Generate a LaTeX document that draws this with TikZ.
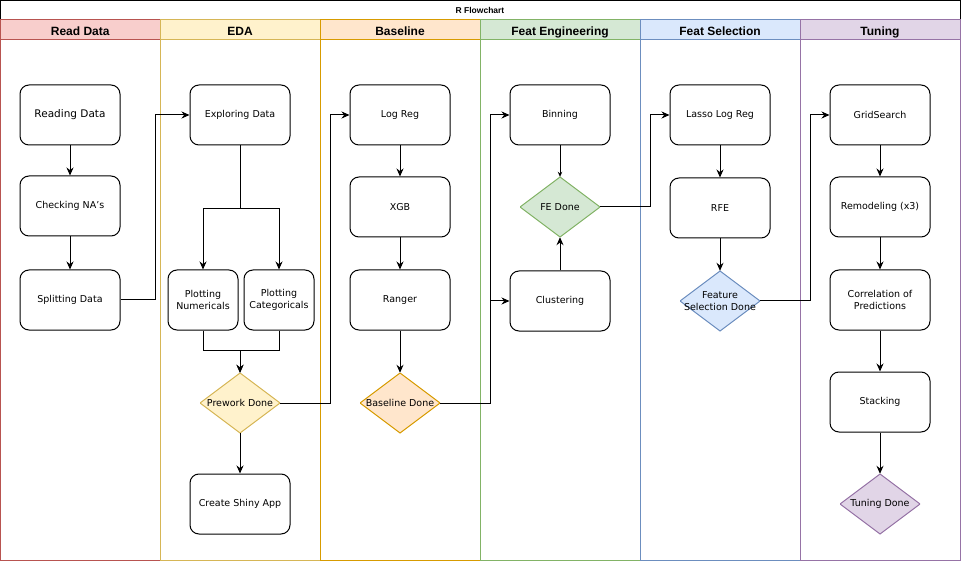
\documentclass[tikz,border=0pt]{standalone}
\usepackage{fontspec}
\setmainfont{DejaVu Sans}
\newfontfamily\headfont{Liberation Sans}
\usetikzlibrary{arrows.meta}
\definecolor{readfill}{HTML}{F8CECC}\definecolor{readstroke}{HTML}{B85450}
\definecolor{edafill}{HTML}{FFF2CC}\definecolor{edastroke}{HTML}{D6B656}
\definecolor{basefill}{HTML}{FFE6CC}\definecolor{basestroke}{HTML}{D79B00}
\definecolor{featfill}{HTML}{D5E8D4}\definecolor{featstroke}{HTML}{82B366}
\definecolor{selfill}{HTML}{DAE8FC}\definecolor{selstroke}{HTML}{6C8EBF}
\definecolor{tunefill}{HTML}{E1D5E7}\definecolor{tunestroke}{HTML}{9673A6}
\tikzset{
  box/.style={draw, line width=1pt, rounded corners=9pt, minimum width=100pt, minimum height=60pt,
    inner sep=2pt, align=center, font=\fontsize{9.5}{12}\selectfont},
  smallbox/.style={box, minimum width=70pt},
  decision/.style={minimum width=80pt, minimum height=60pt, inner sep=0pt, align=center,
    font=\fontsize{9.5}{12}\selectfont,
    path picture={\draw[line width=1pt, draw=#1stroke, fill=#1fill] (path picture bounding box.north)
      -- (path picture bounding box.east) -- (path picture bounding box.south)
      -- (path picture bounding box.west) -- cycle;}},
  lanehead/.style={draw=#1stroke, fill=#1fill, line width=1pt, minimum width=160pt, minimum height=20pt,
    inner sep=0pt, text height=11.4pt, text depth=0pt, font=\headfont\bfseries\fontsize{12}{14}\selectfont},
  lane/.style={draw=#1stroke, line width=1pt},
  arr/.style={line width=1pt, -{Stealth[length=8pt,width=7pt]}},
  tinyarr/.style={line width=1pt, -{Stealth[length=5pt,width=4.5pt]}}
}
\begin{document}
\begin{tikzpicture}[x=1pt,y=-1pt]
          \useasboundingbox (0,0) rectangle (961,561);
          \draw [line width=1pt] (0.5,0.5) rectangle (960,20);
          \node [font=\headfont\bfseries\fontsize{8.5}{10}\selectfont] (title) at (480,10) {R Flowchart};

          \draw [lane=read] (0.5,20) rectangle (160,560);
          \draw [lane=eda] (160,20) rectangle (320,560);
          \draw [lane=base] (320,20) rectangle (480,560);
          \draw [lane=feat] (480,20) rectangle (640,560);
          \draw [lane=sel] (640,20) rectangle (800,560);
          \draw [lane=tune] (800,20) rectangle (960,560);
          \node [lanehead=read] (readhead) at (80.25,30) {Read Data};
          \node [lanehead=eda] (edahead) at (240,30) {EDA};
          \node [lanehead=base] (basehead) at (400,30) {Baseline};
          \node [lanehead=feat] (feathead) at (560,30) {Feat Engineering};
          \node [lanehead=sel] (selhead) at (720,30) {Feat Selection};
          \node [lanehead=tune] (tunehead) at (880,30) {Tuning};

          \node [box, font=\fontsize{10.5}{12}\selectfont] (read) at (70,115) {Reading Data};
          \node [box] (check) at (70,206) {Checking NA's};
          \node [box] (split) at (70,300) {Splitting Data};

          \node [box] (explore) at (240,115) {Exploring Data};
          \node [smallbox] (plotnum) at (203,300) {Plotting\\Numericals};
          \node [smallbox] (plotcat) at (279,300) {Plotting\\Categoricals};
          \node [decision=eda] (prework) at (240,403) {Prework Done};
          \node [box] (shiny) at (240,504) {Create Shiny App};

          \node [box] (logreg) at (400,115) {Log Reg};
          \node [box] (xgb) at (400,207) {XGB};
          \node [box] (ranger) at (400,300) {Ranger};
          \node [decision=base] (basedone) at (400,403) {Baseline Done};

          \node [box] (binning) at (560,115) {Binning};
          \node [decision=feat] (fedone) at (560,207) {FE Done};
          \node [box] (cluster) at (560,301) {Clustering};

          \node [box] (lasso) at (720,115) {Lasso Log Reg};
          \node [box] (rfe) at (720,208) {RFE};
          \node [decision=sel] (seldone) at (720,301) {Feature\\Selection Done};

          \node [box] (grid) at (880,115) {GridSearch};
          \node [box] (remodel) at (880,207) {Remodeling (x3)};
          \node [box] (corr) at (880,300) {Correlation of\\Predictions};
          \node [box] (stack) at (880,402) {Stacking};
          \node [decision=tune] (tunedone) at (880,504) {Tuning Done};

          \draw [arr] (read) -- (check);
          \draw [arr] (check) -- (split);
          \draw [arr] (split.east) -- ++(35,0) |- (explore.west);

          \draw [arr] (explore.south) -- ++(0,63) -| (plotnum.north);
          \draw [arr] (explore.south) -- ++(0,63) -| (plotcat.north);
          \draw [arr] (plotnum.south) -- ++(0,20) -| (prework.north);
          \draw [arr] (plotcat.south) -- ++(0,20) -| (prework.north);
          \draw [arr] (prework.south) -- (shiny.north);
          \draw [arr] (prework.east) -- ++(50,0) |- (logreg.west);

          \draw [arr] (logreg) -- (xgb);
          \draw [arr] (xgb) -- (ranger);
          \draw [arr] (ranger) -- (basedone.north);
          \draw [arr] (basedone.east) -- ++(50,0) |- (binning.west);
          \draw [arr] (basedone.east) -- ++(50,0) |- (cluster.west);

          \draw [tinyarr] (binning) -- (fedone.north);
          \draw [arr] (cluster) -- (fedone.south);
          \draw [arr] (fedone.east) -- ++(50,0) |- (lasso.west);

          \draw [arr] (lasso) -- (rfe);
          \draw [arr] (rfe) -- (seldone.north);
          \draw [arr] (seldone.east) -- ++(50,0) |- (grid.west);

          \draw [arr] (grid) -- (remodel);
          \draw [arr] (remodel) -- (corr);
          \draw [arr] (corr) -- (stack);
          \draw [arr] (stack) -- (tunedone.north);
\end{tikzpicture}
\end{document}
